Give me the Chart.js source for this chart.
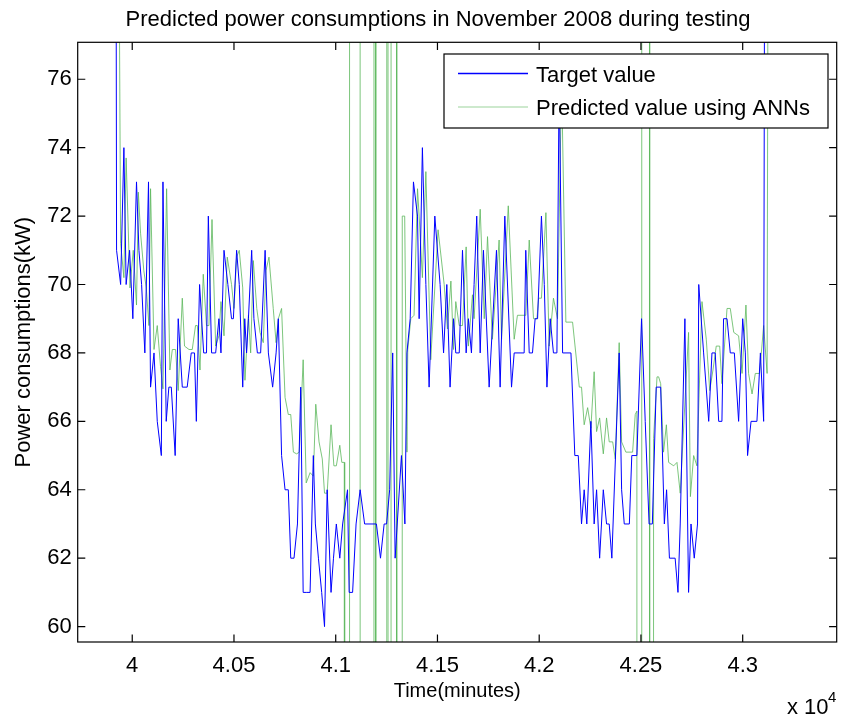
<!DOCTYPE html>
<html>
<head>
<meta charset="utf-8">
<script src="https://cdn.jsdelivr.net/npm/chart.js@4.4.1/dist/chart.umd.min.js"></script>
<style>
  html, body { margin: 0; padding: 0; background: #fff; }
  canvas { display: block; }
</style>
</head>
<body>
<canvas id="chart" width="841" height="719"></canvas>
<script>
// measured consumption (minutes, kW)
const targetTime = [39918, 39923, 39943, 39959, 39970, 39987, 40003, 40021, 40033, 40046, 40062, 40080, 40090, 40107, 40123, 40143, 40151, 40167, 40180, 40192,
  40211, 40226, 40246, 40270, 40290, 40306, 40315, 40331, 40351, 40365, 40374, 40390, 40410, 40426, 40436, 40451, 40470, 40488, 40497, 40513,
  40526, 40543, 40553, 40562, 40571, 40587, 40598, 40615, 40631, 40653, 40669, 40690, 40707, 40718, 40734, 40751, 40767, 40779, 40795, 40812,
  40828, 40840, 40855, 40874, 40890, 40900, 40915, 40931, 40945, 40958, 40977, 40989, 41003, 41020, 41034, 41058, 41066, 41083, 41100, 41120,
  41142, 41200, 41220, 41238, 41250, 41265, 41280, 41292, 41323, 41340, 41350, 41366, 41382, 41402, 41410, 41426, 41443, 41459, 41487, 41513,
  41530, 41546, 41562, 41579, 41590, 41607, 41623, 41641, 41652, 41667, 41680, 41693, 41710, 41726, 41754, 41790, 41808, 41831, 41864, 41877,
  41926, 41934, 41951, 41967, 41980, 41992, 42011, 42025, 42038, 42054, 42070, 42087, 42098, 42115, 42156, 42175, 42192, 42208, 42221, 42234,
  42254, 42270, 42282, 42297, 42315, 42331, 42344, 42357, 42393, 42405, 42418, 42443, 42455, 42480, 42503, 42521, 42540, 42556, 42575, 42597,
  42615, 42626, 42640, 42668, 42682, 42693, 42716, 42734, 42746, 42762, 42778, 42784, 42808, 42833, 42849, 42865, 42882, 42898, 42906, 42923,
  42939, 42959, 42980, 43000, 43013, 43024, 43041, 43070, 43087, 43103, 43111];
const targetKw = [90, 71, 70, 74, 70, 71, 69, 73, 71, 70, 68, 73, 67, 68, 66, 65, 73, 66, 67, 67,
  65, 69, 67, 67, 68, 68, 66, 70, 68, 68, 72, 68, 68, 69, 68, 71, 70, 69, 69, 71,
  70, 67, 69, 68, 69, 71, 69, 68, 68, 71, 68, 67, 68, 69, 65, 64, 64, 62, 62, 63,
  67, 61, 61, 61, 65, 63, 62, 61, 60, 64, 61, 62, 63, 62, 63, 64, 61, 61, 63, 64,
  63, 63, 62, 63, 63, 64, 68, 62, 65, 63, 68, 69, 73, 72, 69, 74, 70, 67, 72, 70,
  68, 70, 67, 69, 68, 68, 71, 68, 69, 68, 70, 72, 68, 71, 67, 71, 67, 72, 67, 68,
  68, 71, 68, 68, 69, 69, 72, 70, 67, 69, 68, 68, 76, 68, 68, 65, 65, 63, 64, 63,
  66, 63, 64, 62, 64, 63, 63, 62, 68, 64, 63, 63, 65, 65, 69, 66, 63, 63, 67, 67,
  63, 64, 62, 62, 61, 63, 69, 61, 63, 62, 63, 70, 68, 66, 68, 68, 66, 66, 69, 69,
  68, 68, 66, 69, 68, 65, 66, 66, 68, 66, 90];

// ANN prediction (minutes, kW)
const predTime = [39926, 39943, 39959, 39970, 39989, 40005, 40021, 40030, 40041, 40057, 40069, 40082, 40090, 40107, 40123, 40139, 40151, 40169, 40185, 40197,
  40213, 40226, 40246, 40257, 40279, 40295, 40311, 40320, 40333, 40349, 40365, 40377, 40392, 40410, 40426, 40436, 40451, 40467, 40488, 40500,
  40513, 40526, 40543, 40554, 40571, 40582, 40595, 40612, 40628, 40644, 40657, 40672, 40693, 40707, 40718, 40734, 40751, 40767, 40779, 40792,
  40808, 40821, 40840, 40855, 40874, 40890, 40902, 40918, 40934, 40945, 40958, 40977, 40991, 41003, 41020, 41030, 41042, 41044, 41066, 41068,
  41119, 41121, 41187, 41189, 41195, 41197, 41249, 41251, 41256, 41258, 41271, 41273, 41298, 41300, 41325, 41327, 41339, 41350, 41354, 41369,
  41385, 41402, 41410, 41426, 41443, 41467, 41503, 41533, 41549, 41566, 41579, 41590, 41607, 41623, 41641, 41652, 41672, 41680, 41710, 41730,
  41746, 41770, 41803, 41815, 41848, 41877, 41893, 41934, 41951, 41972, 41989, 41997, 42011, 42033, 42049, 42070, 42090, 42110, 42131, 42164,
  42197, 42208, 42221, 42238, 42254, 42270, 42282, 42297, 42315, 42331, 42344, 42361, 42374, 42393, 42405, 42426, 42459, 42472, 42480, 42483,
  42502, 42504, 42541, 42543, 42559, 42562, 42579, 42587, 42597, 42611, 42625, 42636, 42661, 42677, 42693, 42734, 42743, 42759, 42775, 42800,
  42821, 42838, 42854, 42870, 42887, 42898, 42923, 42939, 42956, 42980, 42997, 43016, 43029, 43046, 43062, 43083, 43103, 43120, 43128];
const predKw = [90, 71.2, 70.2, 73.7, 69.9, 71, 69.4, 72.7, 71.5, 70.4, 69.9, 68.8, 72.8, 68.1, 68.8, 67.6, 66.95, 72.8, 67.5, 68.1,
  68.1, 66.9, 69.6, 68.2, 68.1, 68.1, 68.8, 68.8, 67.5, 70.3, 68.8, 68.8, 71.9, 68.2, 68.5, 69.5, 68.5, 70.8, 70, 69.3,
  70.8, 71, 69.9, 67.2, 69.1, 68, 70.7, 69.3, 68.6, 68.3, 70.4, 70.8, 69.3, 68.3, 69, 69.3, 66.7, 66.2, 66.2, 65.1,
  65.05, 65.1, 67.8, 64.2, 64.5, 64.4, 66.5, 65.4, 64.9, 63.9, 63.9, 65.9, 64.7, 64.7, 65.3, 64.8, 64.8, -100, -100, 250,
  250, -100, -100, 250, 250, -100, -100, 250, 250, -100, -100, 250, 250, -100, -100, 72, 72, 65.1, 68.1, 69,
  69.1, 72.8, 72, 70.2, 73.3, 67.8, 71.6, 70, 68.7, 70.1, 68.1, 69.5, 68.8, 68.8, 71.1, 68.2, 69.7, 69, 72.2, 69,
  71.4, 68.4, 71.3, 68.4, 72.3, 68.4, 69.1, 69.1, 71.3, 69, 69, 69.6, 69.6, 72.1, 68.2, 69.6, 69, 76, 68.9, 68.9,
  67, 67, 65.9, 66.4, 65.8, 67.45, 65.7, 66.1, 65.05, 66.1, 65.4, 65.4, 64.9, 68.3, 65.4, 65.1, 65.1, 66.2, 66.3, -100,
  -100, 250, 250, -100, -100, 65.5, 67.3, 67.3, 67.1, 65.1, 65.9, 64.8, 64.7, 64.8, 63.9, 68.6, 63.8, 65, 64.7, 69.5,
  68.4, 66.9, 67.5, 68.2, 68.2, 67.1, 69.3, 69.3, 68.6, 68.5, 67.4, 69.4, 67.4, 66.8, 67.4, 67.4, 68.8, 67.4, 90];

const xTickValues = [40000, 40500, 41000, 41500, 42000, 42500, 43000];
const xTickLabels = ['4', '4.05', '4.1', '4.15', '4.2', '4.25', '4.3'];
const yTickValues = [60, 62, 64, 66, 68, 70, 72, 74, 76];
const seriesNames = ['Target value', 'Predicted value using ANNs'];

if (targetTime.length != targetKw.length || predTime.length != predKw.length) {
  console.error('length mismatch', targetTime.length, targetKw.length, predTime.length, predKw.length);
}

const FONT = "'Liberation Sans', Arial, Helvetica, sans-serif";
const BLUE = '#0000ff';
const GREEN = '#5cb85c';

Chart.defaults.font.family = FONT;
Chart.defaults.font.size = 22;
Chart.defaults.color = '#000';

// matlab style box, inward ticks, legend and labels
const matlabFrame = {
  id: 'matlabFrame',
  afterDraw: function (chart) {
    const ctx = chart.ctx;
    const a = chart.chartArea;
    const x = chart.scales.x, y = chart.scales.y;
    const tl = 7.6;
    ctx.save();
    ctx.strokeStyle = '#000';
    ctx.lineWidth = 1.2;
    ctx.strokeRect(a.left, a.top, a.right - a.left, a.bottom - a.top);
    ctx.beginPath();
    xTickValues.forEach(function (v) {
      let px = x.getPixelForValue(v);
      ctx.moveTo(px, a.bottom); ctx.lineTo(px, a.bottom - tl);
      ctx.moveTo(px, a.top); ctx.lineTo(px, a.top + tl);
    });
    yTickValues.forEach(function (v) {
      let py = y.getPixelForValue(v);
      ctx.moveTo(a.left, py); ctx.lineTo(a.left + tl, py);
      ctx.moveTo(a.right, py); ctx.lineTo(a.right - tl, py);
    });
    ctx.stroke();

    // legend box
    let lx = 444, ly = 54, lw = 384, lh = 74;
    ctx.fillStyle = '#fff';
    ctx.fillRect(lx, ly, lw, lh);
    ctx.strokeRect(lx, ly, lw, lh);
    ctx.lineWidth = 1.4;
    ctx.strokeStyle = BLUE;
    ctx.beginPath(); ctx.moveTo(458, 73.5); ctx.lineTo(528, 73.5); ctx.stroke();
    ctx.lineWidth = 1.2;
    ctx.strokeStyle = GREEN;
    ctx.globalAlpha = 0.6;
    ctx.beginPath(); ctx.moveTo(458, 107); ctx.lineTo(528, 107); ctx.stroke();
    ctx.globalAlpha = 1;
    ctx.fillStyle = '#000';
    ctx.font = '22px ' + FONT;
    ctx.textAlign = 'left';
    ctx.textBaseline = 'alphabetic';
    ctx.fillText(seriesNames[0], 536, 82);
    ctx.fillText(seriesNames[1], 536, 115);

    // titles
    ctx.textAlign = 'center';
    ctx.fillText('Predicted power consumptions in November 2008 during testing', 438, 26);
    ctx.save();
    ctx.translate(24, (a.top + a.bottom) / 2);
    ctx.rotate(-Math.PI / 2);
    ctx.textBaseline = 'middle';
    ctx.fillText('Power consumptions(kW)', 0, 0);
    ctx.restore();
    ctx.font = '20px ' + FONT;
    ctx.fillText('Time(minutes)', (a.left + a.right) / 2, 697);

    // exponent
    ctx.font = '22px ' + FONT;
    ctx.textAlign = 'left';
    ctx.fillText('x 10', 787, 714);
    ctx.font = '15px ' + FONT;
    ctx.fillText('4', 828, 702);
    ctx.restore();
  }
};

const ctx = document.getElementById('chart').getContext('2d');
const chart = new Chart(ctx, {
  type: 'line',
  data: {
    datasets: [
      {
        label: seriesNames[0],
        data: targetTime.map(function (t, i) { return { x: t, y: targetKw[i] }; }),
        borderColor: BLUE,
        borderWidth: 1,
        pointRadius: 0,
        tension: 0
      },
      {
        label: seriesNames[1],
        data: predTime.map(function (t, i) { return { x: t, y: predKw[i] }; }),
        borderColor: GREEN,
        borderWidth: 0.8,
        pointRadius: 0,
        tension: 0
      }
    ]
  },
  options: {
    responsive: false,
    animation: false,
    events: [],
    layout: { padding: { left: 0, right: 4.3, top: 42.3, bottom: 0 } },
    plugins: {
      legend: { display: false },
      tooltip: { enabled: false },
      title: { display: false }
    },
    scales: {
      x: {
        type: 'linear',
        min: 39732,
        max: 43462,
        afterBuildTicks: function (scale) {
          scale.ticks = xTickValues.map(function (v) { return { value: v }; });
        },
        afterFit: function (scale) { scale.height = 77; },
        grid: { display: false, drawTicks: false },
        border: { display: false },
        ticks: {
          autoSkip: false,
          maxRotation: 0,
          padding: 11,
          callback: function (v) { return xTickLabels[xTickValues.indexOf(v)]; }
        }
      },
      y: {
        min: 59.55,
        max: 77.08,
        afterBuildTicks: function (scale) {
          scale.ticks = yTickValues.map(function (v) { return { value: v }; });
        },
        afterFit: function (scale) { scale.width = 77.7; },
        grid: { display: false, drawTicks: false },
        border: { display: false },
        ticks: { padding: 6 }
      }
    }
  },
  plugins: [matlabFrame]
});
</script>
</body>
</html>
